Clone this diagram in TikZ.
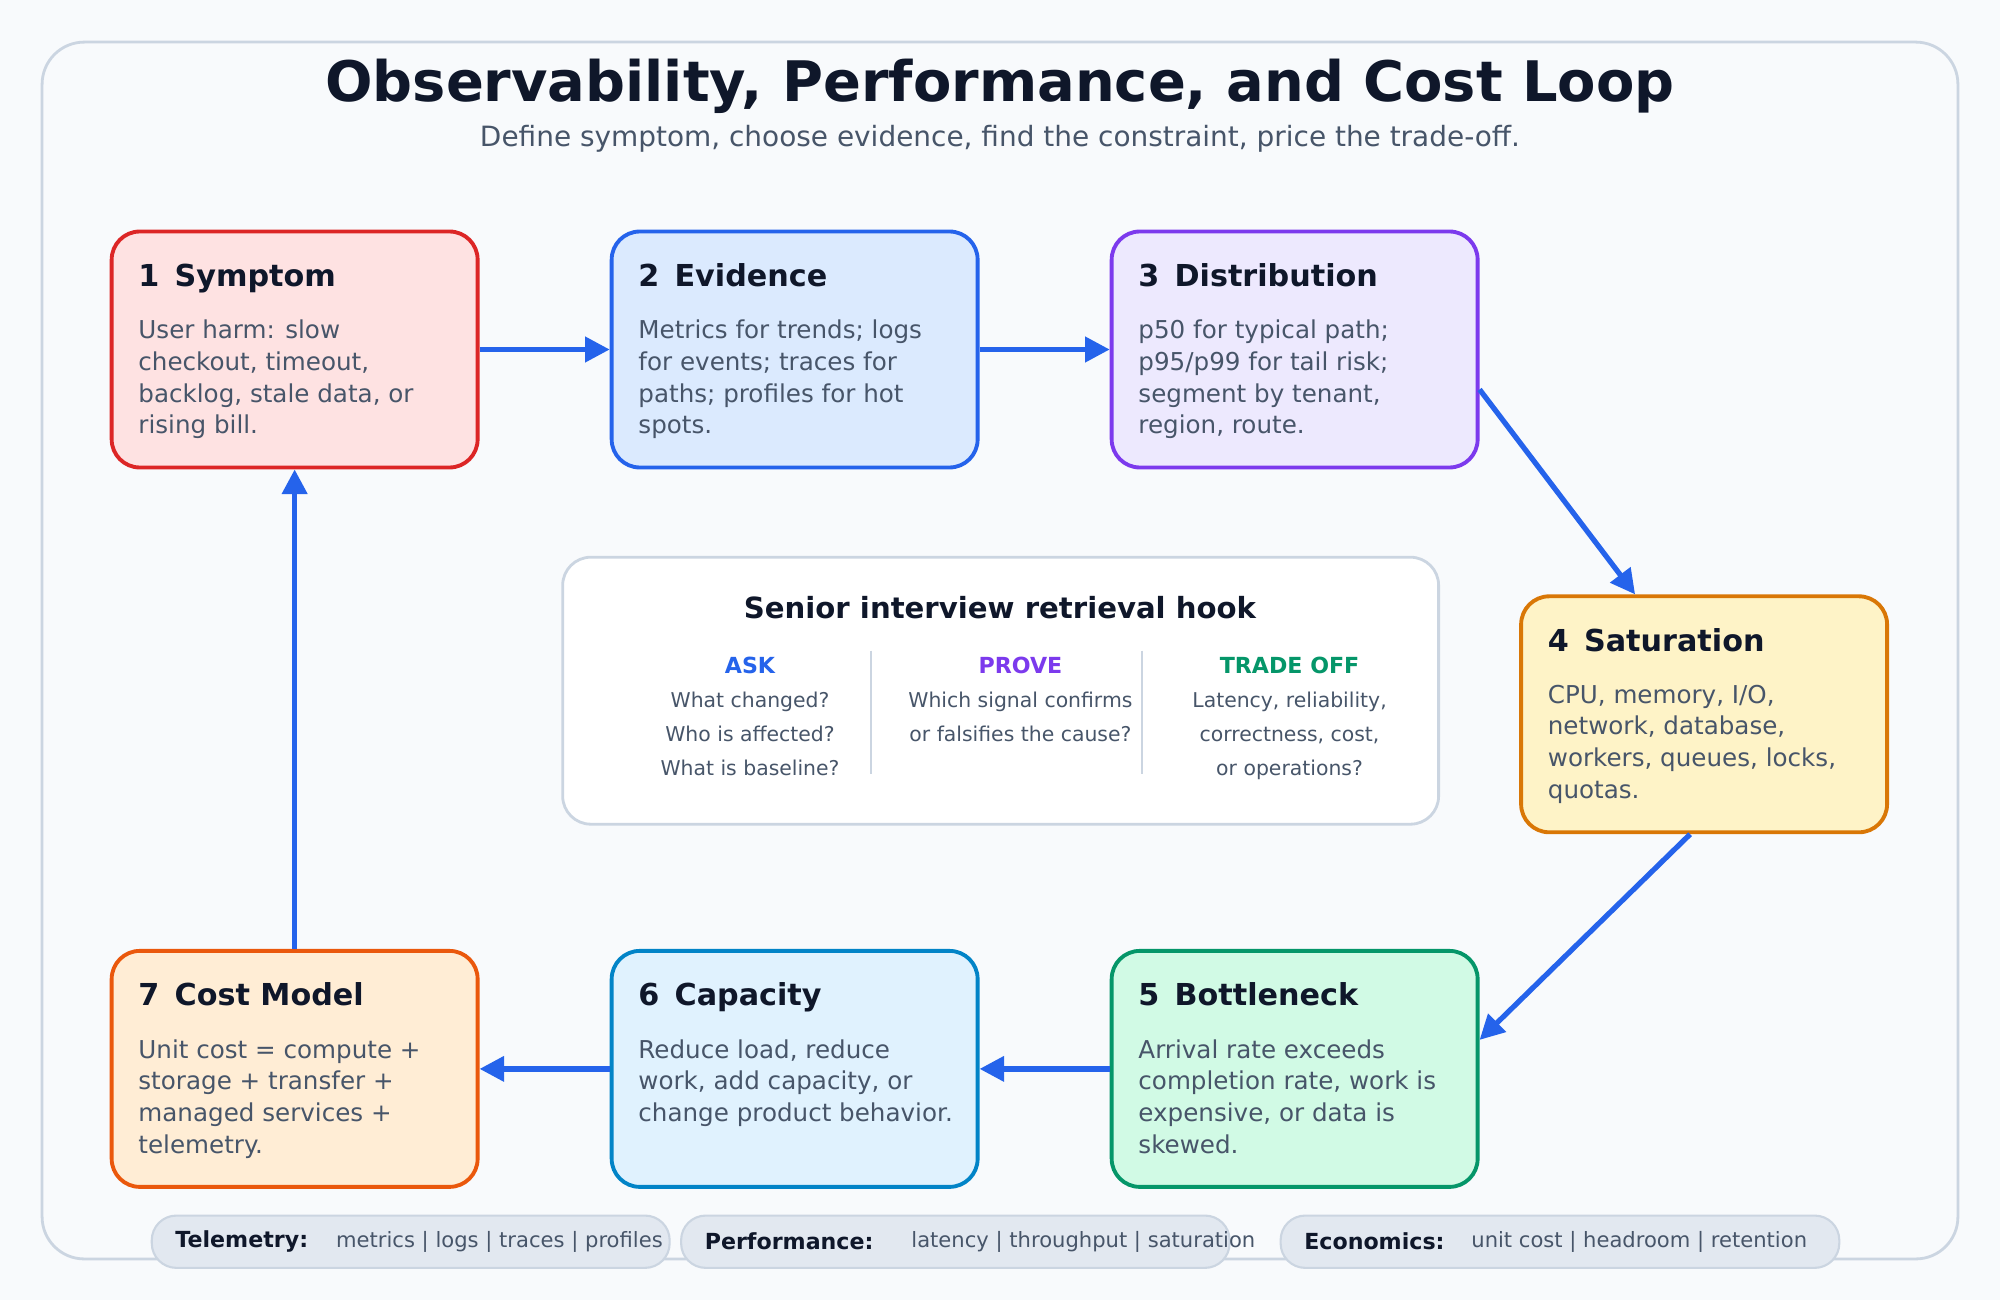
\documentclass[tikz,border=0pt]{standalone}
\usepackage{fontspec}
\setmainfont{DejaVu Sans}
\usetikzlibrary{positioning,arrows.meta}
\definecolor{bgcol}{HTML}{F8FAFC}
\definecolor{framecol}{HTML}{CBD5E1}
\definecolor{inkcol}{HTML}{0F172A}
\definecolor{bodycol}{HTML}{475569}
\definecolor{arrowcol}{HTML}{2563EB}
\definecolor{pillcol}{HTML}{E2E8F0}
\definecolor{redfill}{HTML}{FEE2E2}\definecolor{redline}{HTML}{DC2626}
\definecolor{bluefill}{HTML}{DBEAFE}\definecolor{blueline}{HTML}{2563EB}
\definecolor{purfill}{HTML}{EDE9FE}\definecolor{purline}{HTML}{7C3AED}
\definecolor{yelfill}{HTML}{FEF3C7}\definecolor{yelline}{HTML}{D97706}
\definecolor{grnfill}{HTML}{D1FAE5}\definecolor{grnline}{HTML}{059669}
\definecolor{skyfill}{HTML}{E0F2FE}\definecolor{skyline}{HTML}{0284C7}
\definecolor{orgfill}{HTML}{FFEDD5}\definecolor{orgline}{HTML}{EA580C}
\definecolor{greentxt}{HTML}{059669}

\tikzset{
  step/.style={draw=#1line, fill=#1fill, line width=1.1pt, rounded corners=8pt,
    minimum width=3.66cm, minimum height=2.36cm},
  stephead/.style={anchor=base west, font=\fontsize{8.6pt}{10pt}\selectfont\bfseries, text=inkcol, inner sep=0pt},
  stepbody/.style={anchor=north west, font=\fontsize{7pt}{9pt}\selectfont, text=bodycol,
    align=left, inner sep=0pt},
  flow/.style={-{Triangle[length=7pt,width=7pt]}, line width=1.5pt, draw=arrowcol},
  colhead/.style={font=\fontsize{6.3pt}{7pt}\selectfont\bfseries},
  coltext/.style={font=\fontsize{5.8pt}{9.6pt}\selectfont, text=bodycol, align=center, anchor=north},
  pill/.style={draw=framecol, fill=pillcol, line width=0.6pt, rounded corners=7pt},
  pilltext/.style={font=\fontsize{6pt}{7pt}\selectfont, text=bodycol, anchor=west, inner sep=0pt},
}

\begin{document}
\begin{tikzpicture}[x=0.012755cm, y=-0.012755cm]
    % background and frame
    \fill[bgcol] (0,0) rectangle (1568,1019);
    \useasboundingbox (0,0) rectangle (1568,1019);
    \draw[framecol, line width=0.8pt, rounded corners=12pt, fill=bgcol] (33,33) rectangle (1535,987);

    % title
    \node[font=\fontsize{15.9pt}{18pt}\selectfont\bfseries, text=inkcol] (title) at (784,68) {Observability, Performance, and Cost Loop};
    \node[font=\fontsize{7.95pt}{9pt}\selectfont, text=bodycol] (subtitle) at (784,109) {Define symptom, choose evidence, find the constraint, price the trade-off.};

    % steps
    \node[step=red] (symptom) at (231,274) {};
    \node[step=blue] (evidence) at (623,274) {};
    \node[step=pur] (distrib) at (1015,274) {};
    \node[step=yel] (satur) at (1336,560) {};
    \node[step=grn] (bottle) at (1015,838) {};
    \node[step=sky] (capac) at (623,838) {};
    \node[step=org] (cost) at (231,838) {};

    \foreach \n/\h/\b in {
      symptom/{1\enspace Symptom}/{User harm: slow\\checkout, timeout,\\backlog, stale data, or\\rising bill.},
      evidence/{2\enspace Evidence}/{Metrics for trends; logs\\for events; traces for\\paths; profiles for hot\\spots.},
      distrib/{3\enspace Distribution}/{p50 for typical path;\\p95/p99 for tail risk;\\segment by tenant,\\region, route.},
      satur/{4\enspace Saturation}/{CPU, memory, I/O,\\network, database,\\workers, queues, locks,\\quotas.},
      bottle/{5\enspace Bottleneck}/{Arrival rate exceeds\\completion rate, work is\\expensive, or data is\\skewed.},
      capac/{6\enspace Capacity}/{Reduce load, reduce\\work, add capacity, or\\change product behavior.},
      cost/{7\enspace Cost Model}/{Unit cost = compute +\\storage + transfer +\\managed services +\\telemetry.}} {
      \node[stephead] (\n-h) at ([xshift=0.28cm, yshift=-0.57cm]\n.north west) {\h};
      \node[stepbody] (\n-b) at ([xshift=0.28cm, yshift=-0.9cm]\n.north west) {\b};
    }

    % loop arrows
    \draw[flow] (symptom.east) -- (evidence.west);
    \draw[flow] (evidence.east) -- (distrib.west);
    \draw[flow] ([yshift=-0.40cm]distrib.east) -- ([xshift=-0.69cm]satur.north);
    \draw[flow] ([xshift=-0.14cm]satur.south) -- ([yshift=0.29cm]bottle.east);
    \draw[flow] (bottle.west) -- (capac.east);
    \draw[flow] (capac.west) -- (cost.east);
    \draw[flow] (cost.north) -- (symptom.south);

    % retrieval hook
    \node[draw=framecol, fill=white, line width=0.8pt, rounded corners=8pt,
      minimum width=8.76cm, minimum height=2.67cm] (hook) at (784.5,541.5) {};
    \node[font=\fontsize{8.3pt}{10pt}\selectfont\bfseries, text=inkcol] (hook-t) at (784,476) {Senior interview retrieval hook};
    \node[colhead, text=arrowcol] (ask) at (588,522) {ASK};
    \node[colhead, text=purline] (prove) at (800,522) {PROVE};
    \node[colhead, text=greentxt] (trade) at (1011,522) {TRADE OFF};
    \node[coltext] (ask-b) at (588,533) {What changed?\\Who is affected?\\What is baseline?};
    \node[coltext] (prove-b) at (800,533) {Which signal confirms\\or falsifies the cause?};
    \node[coltext] (trade-b) at (1011,533) {Latency, reliability,\\correctness, cost,\\or operations?};
    \draw[framecol, line width=0.6pt] (683,510) -- (683,607);
    \draw[framecol, line width=0.6pt] (895,510) -- (895,607);

    % footer pills
    \draw[pill] (119,953) rectangle (525,994);
    \draw[pill] (534,953) rectangle (964,994);
    \draw[pill] (1004,953) rectangle (1442,994);
    \node[pilltext, text=inkcol, font=\fontsize{6.3pt}{7pt}\selectfont\bfseries] (tel) at (137,973) {Telemetry:};
    \node[pilltext] (tel-v) at (263,974) {metrics | logs | traces | profiles};
    \node[pilltext, text=inkcol, font=\fontsize{6.3pt}{7pt}\selectfont\bfseries] (perf) at (552,973) {Performance:};
    \node[pilltext] (perf-v) at (714,974) {latency | throughput | saturation};
    \node[pilltext, text=inkcol, font=\fontsize{6.3pt}{7pt}\selectfont\bfseries] (eco) at (1022,973) {Economics:};
    \node[pilltext] (eco-v) at (1153,974) {unit cost | headroom | retention};
\end{tikzpicture}
\end{document}
